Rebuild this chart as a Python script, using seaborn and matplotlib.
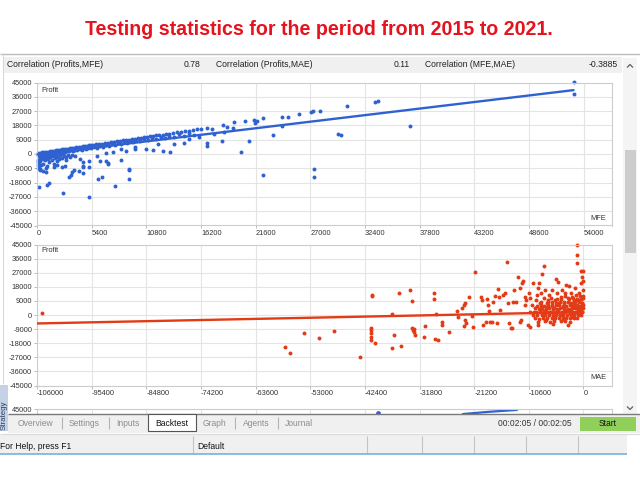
import matplotlib
matplotlib.use("Agg")
import matplotlib.pyplot as plt
import seaborn as sns
from matplotlib import font_manager
from matplotlib.patches import Rectangle
from matplotlib.lines import Line2D

# ---------------- data ----------------
TITLE = "Testing statistics for the period from 2015 to 2021."
corr_labels = ["Correlation (Profits,MFE)", "Correlation (Profits,MAE)", "Correlation (MFE,MAE)"]
corr_values = ["0.78", "0.11", "-0.3885"]
profit_ticks = [45000, 36000, 27000, 18000, 9000, 0, -9000, -18000, -27000, -36000, -45000]
mfe_ticks = [0, 5400, 10800, 16200, 21600, 27000, 32400, 37800, 43200, 48600, 54000]
mae_ticks = [-106000, -95400, -84800, -74200, -63600, -53000, -42400, -31800, -21200, -10600, 0]
tab_names = ["Overview", "Settings", "Inputs", "Backtest", "Graph", "Agents", "Journal"]
status_texts = ["For Help, press F1", "Default"]
timer_text = "00:02:05 / 00:02:05"

# top panel: MFE vs Profit
mfe_a = [100, 300, 500, 700, 900, 1100, 1300, 1500, 1700, 1900, 2100, 2300, 2500, 2700, 2900, 3100,
         3300, 3500, 3700, 3900, 4100, 4300, 4500, 4700, 4900, 5100, 5300, 5500, 5800, 6100, 6400,
         6700, 7000, 7300, 7600, 7900, 8200, 8500, 8800, 9100, 9400, 9700, 10000, 10300, 10600,
         10900, 11200, 11500, 11800, 12100, 12400, 12700, 13000, 13400, 13800, 14200, 14600, 15000,
         15400, 15800, 16200]
prof_a = [600, 800, 1000, 1150, 1350, 1550, 1700, 1900, 2100, 2300, 2500, 2700, 2850, 3050, 3250, 3450,
          3650, 3800, 4000, 4200, 4400, 4600, 4750, 4950, 5150, 5350, 5500, 5700, 6000, 6300, 6550,
          6850, 7100, 7400, 7700, 8000, 8300, 8550, 8850, 9100, 9400, 9700, 10000, 10250, 10550,
          10800, 11100, 11400, 11700, 11950, 12250, 12500, 12800, 13200, 13600, 13950, 14300, 14700,
          15100, 15500, 15800]
mfe_b = [200, 400, 600, 800, 1000, 1200, 1400, 1600, 1800, 2000, 2200, 2400, 2600, 2800, 3000, 3200,
         3400, 3600, 3800, 4000, 4200, 4400, 4600, 4800, 5000, 5300, 5600, 5900, 6200, 6500, 6800,
         7100, 7400, 7700, 8000, 8300, 8600, 8900, 9200, 9500, 9800, 10200, 10600, 11000, 11400,
         11800, 12200, 12600, 13000, 13500, 14000, 14500, 15000, 15500]
prof_b = [-200, -500, 0, -300, 200, -100, 600, 300, 900, 500, 1300, 1000, 1700, 1200, 2100, 1600,
          2400, 2000, 2800, 2300, 3200, 2700, 3600, 3100, 4000, 3500, 4500, 4000, 5100, 4600, 5700,
          5000, 6400, 5800, 6900, 6300, 7500, 6800, 8100, 7400, 8700, 8000, 9300, 8600, 10000,
          9400, 10800, 9800, 11400, 10500, 12400, 11200, 13200, 12000]
mfe_c = [50, 150, 250, 100, 300, 50, 200, 400, 500, 600, 700, 800, 900, 1000, 1100, 1200, 1300,
         1400, 1500, 1600, 1700, 1800, 1900, 2000, 2100, 2200, 2300, 2500, 2700, 2900, 3100, 3300,
         3500, 50, 150, 350, 600, 850, 1000, 300, 120, 3800, 4200, 4500, 2600, 1300]
prof_c = [-500, -1500, -2500, -3500, -4200, -5000, -6000, -1000, -2200, -3000, -1800, -4000, -2600,
          -1200, -3300, -5200, -2000, -700, -3800, -1500, -6000, -2800, -500, -4500, -1800, -3200,
          -900, -2500, -1500, -3600, -800, -2200, -400, -7000, -8500, -7200, -6500, -9000, -7300,
          -10000, -9000, -1500, -3000, -4800, -200, -300]
mfe_d = [230, 950, 1210, 2600, 5150, 3200, 3350, 3500, 3650, 4100, 4500, 5100, 5100, 6000, 6470,
         7720, 9100, 9100, 9100, 6200, 6800, 7000, 8300, 1950, 2470, 1650, 300, 640, 870, 2880, 2800,
         4570, 4500, 7050, 22300, 27400, 27400]
prof_d = [-21000, -19500, -18500, -24300, -26900, -14700, -13000, -11500, -10000, -10900, -12200,
          -4200, -8000, -16000, -14700, -20100, -9400, -10200, -15700, -4600, -4200, -6300, -3800,
          -6700, -8000, -8400, -9400, -10500, -11100, -1700, -7300, -7300, -8400, -5900, -13200,
          -9600, -14500]
mfe_e = [10800, 11500, 12400, 13100, 9650, 9650, 8800, 7500, 6800, 5900, 8300, 12000, 13500, 14500,
         16800, 16800, 18300, 20900, 20200, 23300, 29700, 30000, 36800, 24200, 15000, 16000, 17500,
         18500, 16800, 17300, 18400, 18800, 19450, 19400, 20500, 21400, 21700, 21500, 22300, 24200,
         24800, 25900, 27300, 28000, 27100, 30600, 33400, 33700, 53000, 53000]
prof_e = [2900, 2500, 2200, 1300, 3000, 4600, 1800, 1500, 800, -1200, 3300, 6000, 6500, 7000, 7100,
          5200, 8200, 8400, 1300, 12100, 12400, 12000, 17600, 17800, 9600, 10800, 12500, 14000,
          16500, 16000, 18200, 17200, 19900, 16500, 20800, 21400, 21000, 19800, 22400, 23500, 23500,
          25400, 27000, 27000, 26400, 30200, 32900, 33400, 45300, 37800]
trend_mfe_x = [0, 53000]
trend_mfe_y = [-300, 40200]

# bottom panel: MAE vs Profit
mae_f = [-105000, -57900, -57000, -54300, -51300, -48300, -43300, -41000, -41000, -41200, -41200,
         -41200, -41200, -41200, -40500, -37200, -36800, -37200, -35800, -35400, -33700, -33300,
         -33000, -32800, -33300, -32900, -32600, -31000, -30800, -28900, -28900, -28800, -28300,
         -28700, -27500, -27500, -26000]
prof_f = [1500, -20200, -24500, -11700, -14400, -10200, -26600, 12800, 12300, -8500, -9600, -11300,
          -14300, -15900, -18100, 600, -13000, -21300, 14200, -19800, 16000, 9100, -9600, -10900,
          -8500, -9100, -12800, -14300, -7000, 13800, 10000, -15000, -16000, 600, -4300, -6400,
          -10600]
mae_g = [-24500, -24400, -23500, -23200, -22900, -22200, -23000, -22700, -23200, -21500, -21700,
         -21100, -19900, -19600, -18700, -18500, -18300, -18100, -17800, -17600, -17200, -16500,
         -16300, -16100, -15700, -15300, -14800, -14700, -14400, -14000, -13700, -13400, -13100,
         -12700, -12400, -12200, -11900, -11700, -11400, -11300, -11100, -10800, -10600, -10400,
         -10300, -10000, -9800, -13800, -19000, -16700, -12400, -19400]
prof_g = [2550, -1500, 4250, 6400, 7900, 11300, -3200, -5300, -7000, -7900, -600, 27700, 11300, 9600,
          10000, 6400, 2550, -4250, -4700, 8500, 12100, 16400, 11300, 3200, 12800, 13800, 33800, 7400,
          -5300, -8500, 8500, 16000, 8500, 24000, 17000, -3200, 20600, 21700, 11700, 6400, 9600,
          -6400, 14300, -7400, 10600, 6400, 20200, -8300, -4500, -5300, -4300, -6500]
mae_h = [-9600, -9300, -9100, -8800, -8700, -8500, -8300, -8200, -8000, -7700, -7600, -7400, -7200,
         -7000, -6900, -6700, -6500, -6300, -6200, -6100, -5900, -5700, -5600, -5400, -5200, -5000,
         -4900, -4800, -4600, -4400, -4200, -4000, -3900, -3700, -3600, -3400, -3300, -3100, -2900,
         -2700, -2600, -2400, -2300, -2200, -2000, -1800, -1600, -1500, -1300, -1200, -1200, -1100,
         -1000, -800, -650, -500, -450, -300, -200, -100, -100, -50, -50, -50]
prof_h = [2100, 9600, 12800, 17000, 20600, 7400, 5300, 13800, 26000, 31300, 10600, 16000, -3200,
          5300, 8500, 12800, 2100, 10600, 6400, 16000, -2100, 4300, 9600, 23000, 13800, 3200, 21100,
          7400, 0, 11700, 16000, 5300, -1100, 8500, 13800, 3200, 19100, 10600, 18500, 1100, 7400,
          13800, 4300, -1100, 10600, 6400, 17000, 2100, 33400, 38500, 44800, 9600, 5300, 13800, 1100,
          28300, 20200, 24500, 7400, 16000, 4300, 28100, 21900, 10600]
mae_i = [-3500, -2200, -1400, -600, -100,
         -6800, -5100, -4300, -2900, -1900, -1200, -500,
         -8200, -7100, -6200, -5400, -4600, -3800, -3000, -2300, -1600, -900, -300,
         -9000, -8300, -7600, -6900, -6100, -5300, -4700, -3900, -3300, -2600, -2000, -1300, -700, -150,
         -9500, -8700, -8000, -7300, -6600, -5900, -5100, -4500, -3700, -3000, -2400, -1700, -1000, -400,
         -10300, -9200, -8400, -7700, -7000, -6300, -5600, -4900, -4200, -3500, -2800, -2100, -1500, -800, -200,
         -9800, -9000, -8100, -7400, -6700, -6000, -5300, -4600, -3900, -3200, -2500, -1800, -1100, -500,
         -9400, -8600, -7800, -7000, -6200, -5500, -4800, -4000, -3300, -2600, -1900, -1200,
         -8900, -7500, -6500, -5700, -4400, -3500, -2700,
         -8800, -6000, -3000]
prof_i = [12300, 11800, 12500, 11900, 12200,
          9800, 10300, 9900, 10200, 9700, 10400, 10000,
          8200, 7700, 8400, 7900, 8100, 7600, 8300, 7800, 8000, 8500, 7700,
          5800, 6300, 5900, 6200, 5700, 6100, 6400, 5800, 6000, 6300, 5900, 6200, 5700, 6100,
          4200, 3800, 4100, 3700, 4300, 3900, 4000, 4200, 3800, 4100, 3700, 4300, 3900, 4000,
          1800, 2200, 1900, 2300, 1700, 2100, 2000, 1800, 2200, 1900, 2300, 1700, 2100, 2000, 1800,
          200, -300, 100, -200, 300, -100, 0, 200, -300, 100, -200, 300, -100, 0,
          -1800, -2300, -1900, -2200, -1700, -2100, -2000, -2300, -1800, -2200, -1900, -2100,
          -4200, -3800, -4400, -3900, -4100, -3700, -4300,
          -6200, -5800, -6500]
trend_mae_x = [-106000, 0]
trend_mae_y = [-5400, 1900]

# third (mostly hidden) panel peeking out under the second one
p3_dot_x = [-39900]
p3_dot_y = [42500]
p3_line_x = [-23400, -18000, -12900]
p3_line_y = [41800, 43300, 44400]

# ---------------- style ----------------
sns.set_theme(style="white")
names = {f.name for f in font_manager.fontManager.ttflist}
NARROW = "Liberation Sans Narrow" in names
FONT = "Liberation Sans Narrow" if NARROW else "Liberation Sans"
K = 1.0 if NARROW else 0.81
plt.rcParams['font.family'] = [FONT, 'DejaVu Sans']

BLUE = '#2f62d0'
RED = '#e23b16'
W, H = 640, 480

fig = plt.figure(figsize=(6.4, 4.8), dpi=100)
fig.patch.set_facecolor('white')


def fx(x):
    return x / W


def fy(y):
    return 1 - y / H


def rect(x0, y0, x1, y1, fc, ec='none', lw=0.0, z=5):
    r = Rectangle((fx(x0), fy(y1)), fx(x1) - fx(x0), fy(y0) - fy(y1), transform=fig.transFigure,
                  facecolor=fc, edgecolor=ec, linewidth=lw, zorder=z)
    fig.add_artist(r)
    return r


def line(xs, ys, color, lw=0.8, z=6):
    fig.add_artist(Line2D([fx(v) for v in xs], [fy(v) for v in ys], transform=fig.transFigure,
                          color=color, linewidth=lw, zorder=z, solid_capstyle='butt'))


def text(x, y, s, size, color='#222222', ha='left', va='center', weight='normal', z=7, **kw):
    return fig.text(fx(x), fy(y), s, fontsize=size * K, color=color, ha=ha, va=va,
                    fontweight=weight, zorder=z, **kw)


def make_axes(top, bottom):
    return fig.add_axes([fx(37), fy(bottom), fx(612) - fx(37), fy(top) - fy(bottom)])


TICK = 6.6


def style_axes(ax, xticks, xlim, ylabels=None, xlabels=None):
    ax.set_xlim(*xlim)
    ax.set_ylim(-45000, 45000)
    ax.set_yticks(profit_ticks, ylabels if ylabels is not None else [str(v) for v in profit_ticks])
    ax.set_xticks(xticks, xlabels if xlabels is not None else [str(v) for v in xticks])
    ax.grid(True, color='#e4e4e4', linewidth=0.8)
    ax.set_axisbelow(True)
    ax.set_facecolor('white')
    for s in ax.spines.values():
        s.set_color('#cdcdcd')
        s.set_linewidth(0.8)
    ax.tick_params(axis='both', bottom=True, left=True, length=2.2, width=0.6, color='#b0b0b0',
                   labelsize=TICK * K, labelcolor='#333333', pad=1.2)
    for lab in ax.get_xticklabels():
        lab.set_horizontalalignment('left')
    ax.set_xlabel('')
    ax.set_ylabel('')


# ---------------- panels ----------------
ax1 = make_axes(82.5, 225.5)
ax2 = make_axes(244.5, 385.5)
ax3 = make_axes(409, 551)

mfe_all = mfe_a + mfe_b + mfe_c + mfe_d + mfe_e
prof_mfe_all = prof_a + prof_b + prof_c + prof_d + prof_e
mae_all = mae_f + mae_g + mae_h + mae_i
prof_mae_all = prof_f + prof_g + prof_h + prof_i

DOT = 8
sns.scatterplot(x=mfe_all, y=prof_mfe_all, ax=ax1, color=BLUE, s=DOT, linewidth=0, legend=False)
sns.lineplot(x=trend_mfe_x, y=trend_mfe_y, ax=ax1, color=BLUE, linewidth=1.7, errorbar=None)
sns.scatterplot(x=mae_all, y=prof_mae_all, ax=ax2, color=RED, s=DOT, linewidth=0, legend=False)
sns.lineplot(x=trend_mae_x, y=trend_mae_y, ax=ax2, color=RED, linewidth=1.7, errorbar=None)
sns.scatterplot(x=p3_dot_x, y=p3_dot_y, ax=ax3, color=BLUE, s=12, linewidth=0, legend=False)
sns.lineplot(x=p3_line_x, y=p3_line_y, ax=ax3, color=BLUE, linewidth=1.6, errorbar=None)

for ax in (ax1, ax2):
    for coll in ax.collections:
        coll.set_clip_on(False)
        coll.set_zorder(2)
    for ln in ax.lines:
        ln.set_zorder(3)

style_axes(ax1, mfe_ticks, (0, 56800))
style_axes(ax2, mae_ticks, (-106000, 5530))
style_axes(ax3, mae_ticks, (-106000, 5530),
           ylabels=[str(profit_ticks[0])] + [""] * (len(profit_ticks) - 1),
           xlabels=[""] * len(mae_ticks))

text(41, 90, "Profit", TICK, color='#333333')
text(606, 218, "MFE", TICK, color='#333333', ha='right')
text(41, 251, "Profit", TICK, color='#333333')
text(606, 377.5, "MAE", TICK, color='#333333', ha='right')

# ---------------- window chrome ----------------
fig.text(fx(319), fy(35), TITLE, fontsize=14.1 if not NARROW else 17.2, color='#e5131d',
         ha='center', va='baseline', fontweight='bold', zorder=7)

line([0, 640], [54, 54], '#bcbcbc', lw=1.0)
line([2.5, 2.5], [54, 384], '#d8d8d8', lw=0.8)
rect(3, 56.5, 622, 72.5, '#f0f0f0')
text(7, 64.5, corr_labels[0], 7.7)
text(200, 64.5, corr_values[0], 7.7, ha='right')
text(216, 64.5, corr_labels[1], 7.7)
text(410, 64.5, corr_values[1], 7.7, ha='right')
text(425, 64.5, corr_labels[2], 7.7)
text(618, 64.5, corr_values[2], 7.7, ha='right')

# scrollbar
rect(623, 58, 637, 415, '#f4f4f4')
rect(625, 150, 636, 253, '#cdcdcd')
line([627, 630, 633], [67.5, 64.5, 67.5], '#606060', lw=0.9)
line([627, 630, 633], [406.5, 409.5, 406.5], '#606060', lw=0.9)

# cover for the hidden part of the third panel
rect(0, 414, 640, 480, 'white', z=4)

# tab bar
rect(8, 414, 640, 433, '#f0f0f0')
line([8, 640], [414, 414], '#7a7a7a', lw=1.0)
rect(148, 413.5, 196, 430.5, 'white', ec='#555555', lw=0.8, z=6)
tab_x = [18, 69, 116, 172, 203, 243, 285]
for name, x in zip(tab_names, tab_x):
    if name == "Backtest":
        text(x, 423, name, 7.6, color='#111111', ha='center')
    else:
        text(x, 423, name, 7.6, color='#8c8c8c')
for x in [62, 109, 235, 278]:
    line([x, x], [417, 429], '#b5b5b5', lw=0.8)
text(572, 424, timer_text, 7.6, color='#333333', ha='right')
rect(580, 417, 636, 430.5, '#8fcf5a')
text(608, 424, "Start", 7.6, color='#111111', ha='center')

# left vertical "Strategy Tester" tab
rect(0, 385, 8, 431, '#c5d2e6', z=6)
text(4, 430, "Strategy", 7.0, color='#2a3d66', ha='center', va='bottom', rotation=90, z=7)

# status bar
line([0, 640], [433.8, 433.8], '#dadada', lw=0.8)
rect(0, 435, 627, 453.5, '#f0f0f0')
text(0.5, 446.5, status_texts[0], 7.6, color='#111111')
text(197, 446.5, status_texts[1], 7.6, color='#111111')
for x in [193, 367, 422, 474, 526, 578]:
    line([x, x], [436, 453], '#c4c4c4', lw=0.8)
line([0, 627], [454, 454], '#7aaee2', lw=1.2)

fig.savefig("out.png", dpi=100, facecolor='white')
